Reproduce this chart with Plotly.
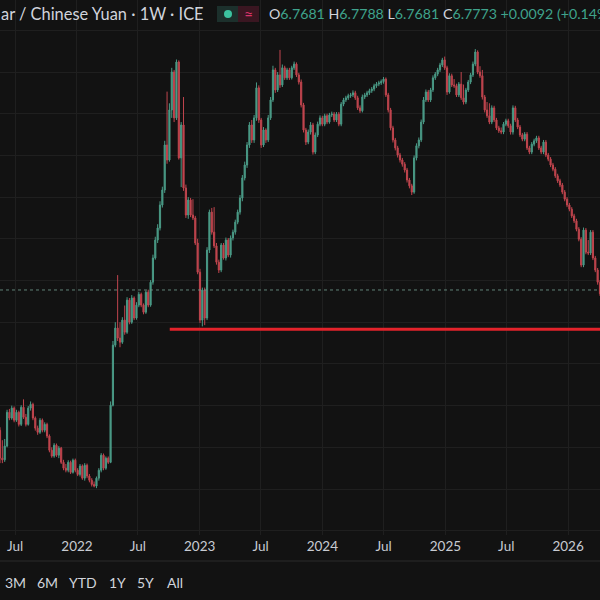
import plotly.graph_objects as go
import pandas as pd

# ---------------- data (weekly USD/CNY candles) ----------------
first_open = 6.430
close = [
    6.441, 6.374, 6.370, 6.403, 6.484, 6.470, 6.494, 6.465, 6.484, 6.455,
    6.496, 6.472, 6.455, 6.494, 6.503, 6.470, 6.446, 6.436, 6.465, 6.441,
    6.455, 6.427, 6.393, 6.379, 6.405, 6.381, 6.398, 6.364, 6.350, 6.345,
    6.364, 6.340, 6.369, 6.345, 6.335, 6.355, 6.326, 6.357, 6.331, 6.321,
    6.311, 6.307, 6.326, 6.345, 6.381, 6.350, 6.374, 6.364, 6.501, 6.645,
    6.686, 6.662, 6.652, 6.705, 6.676, 6.753, 6.700, 6.758, 6.710, 6.741,
    6.767, 6.741, 6.724, 6.772, 6.741, 6.796, 6.854, 6.897, 6.926, 6.981,
    7.017, 7.125, 7.089, 7.209, 7.300, 7.190, 7.324, 7.094, 7.173, 7.022,
    6.957, 6.993, 6.957, 6.950, 6.890, 6.820, 6.705, 6.777, 6.710, 6.873,
    6.964, 6.916, 6.883, 6.844, 6.825, 6.885, 6.854, 6.897, 6.861, 6.902,
    6.916, 6.940, 6.964, 6.998, 7.046, 7.077, 7.125, 7.173, 7.137, 7.190,
    7.262, 7.185, 7.125, 7.161, 7.137, 7.190, 7.233, 7.305, 7.257, 7.293,
    7.269, 7.310, 7.286, 7.305, 7.286, 7.310, 7.319, 7.293, 7.276, 7.221,
    7.161, 7.132, 7.156, 7.173, 7.108, 7.149, 7.175, 7.190, 7.175, 7.195,
    7.180, 7.197, 7.199, 7.185, 7.199, 7.175, 7.223, 7.233, 7.238, 7.243,
    7.245, 7.250, 7.238, 7.214, 7.207, 7.240, 7.245, 7.250, 7.255, 7.259,
    7.267, 7.271, 7.274, 7.277, 7.283, 7.245, 7.209, 7.166, 7.137, 7.118,
    7.101, 7.089, 7.079, 7.065, 7.041, 7.027, 7.012, 7.094, 7.123, 7.137,
    7.180, 7.233, 7.252, 7.233, 7.257, 7.286, 7.295, 7.305, 7.317, 7.329,
    7.310, 7.252, 7.291, 7.269, 7.267, 7.245, 7.271, 7.238, 7.228, 7.257,
    7.276, 7.293, 7.319, 7.348, 7.300, 7.291, 7.240, 7.209, 7.195, 7.180,
    7.214, 7.185, 7.166, 7.159, 7.156, 7.175, 7.183, 7.171, 7.156, 7.214,
    7.185, 7.168, 7.149, 7.139, 7.151, 7.118, 7.108, 7.127, 7.135, 7.142,
    7.118, 7.108, 7.132, 7.101, 7.091, 7.077, 7.067, 7.051, 7.039, 7.029,
    7.012, 6.995, 6.981, 6.971, 6.955, 6.943, 6.923, 6.899, 6.837, 6.921,
    6.868, 6.866, 6.916, 6.854, 6.825, 6.796, 6.7681, 6.7773,
]
high = [
    6.448, 6.448, 6.417, 6.420, 6.490, 6.492, 6.500, 6.498, 6.490, 6.488,
    6.501, 6.515, 6.480, 6.499, 6.510, 6.507, 6.474, 6.452, 6.470, 6.469,
    6.460, 6.459, 6.431, 6.400, 6.410, 6.409, 6.403, 6.401, 6.370, 6.360,
    6.369, 6.368, 6.373, 6.373, 6.350, 6.360, 6.359, 6.362, 6.361, 6.336,
    6.326, 6.318, 6.330, 6.350, 6.386, 6.385, 6.378, 6.378, 6.510, 6.655,
    6.700, 6.813, 6.700, 6.712, 6.740, 6.760, 6.758, 6.765, 6.762, 6.748,
    6.773, 6.771, 6.745, 6.776, 6.778, 6.801, 6.862, 6.905, 6.935, 6.990,
    7.025, 7.135, 7.253, 7.225, 7.310, 7.305, 7.330, 7.328, 7.180, 7.240,
    7.030, 7.000, 6.998, 6.995, 6.955, 6.900, 6.828, 6.783, 6.783, 6.880,
    6.970, 6.974, 6.976, 6.890, 6.850, 6.890, 6.890, 6.903, 6.902, 6.908,
    6.922, 6.946, 6.970, 7.005, 7.053, 7.085, 7.132, 7.180, 7.185, 7.197,
    7.275, 7.268, 7.190, 7.168, 7.165, 7.197, 7.240, 7.315, 7.310, 7.300,
    7.353, 7.318, 7.315, 7.310, 7.310, 7.315, 7.325, 7.323, 7.298, 7.282,
    7.226, 7.166, 7.162, 7.180, 7.178, 7.155, 7.181, 7.196, 7.195, 7.200,
    7.200, 7.202, 7.205, 7.204, 7.204, 7.204, 7.228, 7.238, 7.243, 7.248,
    7.250, 7.256, 7.255, 7.243, 7.220, 7.246, 7.250, 7.255, 7.260, 7.264,
    7.272, 7.276, 7.279, 7.282, 7.288, 7.287, 7.250, 7.214, 7.171, 7.142,
    7.123, 7.106, 7.094, 7.084, 7.070, 7.046, 7.032, 7.100, 7.129, 7.143,
    7.186, 7.240, 7.258, 7.257, 7.262, 7.292, 7.300, 7.310, 7.322, 7.334,
    7.337, 7.315, 7.297, 7.296, 7.283, 7.272, 7.276, 7.300, 7.270, 7.262,
    7.281, 7.298, 7.325, 7.355, 7.352, 7.314, 7.305, 7.245, 7.228, 7.225,
    7.220, 7.219, 7.190, 7.171, 7.167, 7.180, 7.188, 7.188, 7.176, 7.220,
    7.219, 7.190, 7.173, 7.154, 7.156, 7.156, 7.123, 7.132, 7.140, 7.147,
    7.147, 7.123, 7.137, 7.137, 7.106, 7.096, 7.082, 7.072, 7.056, 7.044,
    7.034, 7.017, 7.000, 6.986, 6.976, 6.960, 6.948, 6.928, 6.904, 6.927,
    6.926, 6.897, 6.921, 6.921, 6.859, 6.830, 6.801, 6.7788,
]
low = [
    6.428, 6.362, 6.362, 6.365, 6.400, 6.465, 6.466, 6.460, 6.461, 6.450,
    6.451, 6.468, 6.450, 6.452, 6.488, 6.465, 6.440, 6.430, 6.432, 6.436,
    6.436, 6.422, 6.388, 6.375, 6.375, 6.377, 6.374, 6.360, 6.345, 6.340,
    6.340, 6.336, 6.337, 6.340, 6.331, 6.330, 6.322, 6.320, 6.326, 6.316,
    6.306, 6.304, 6.302, 6.320, 6.340, 6.345, 6.346, 6.360, 6.362, 6.498,
    6.640, 6.655, 6.640, 6.648, 6.670, 6.672, 6.695, 6.696, 6.705, 6.706,
    6.736, 6.736, 6.719, 6.720, 6.736, 6.737, 6.790, 6.850, 6.890, 6.920,
    6.975, 7.010, 7.080, 7.085, 7.190, 7.180, 7.185, 7.090, 7.024, 7.015,
    6.950, 6.948, 6.952, 6.945, 6.885, 6.815, 6.698, 6.690, 6.693, 6.705,
    6.866, 6.910, 6.878, 6.838, 6.818, 6.820, 6.850, 6.848, 6.856, 6.855,
    6.896, 6.910, 6.935, 6.958, 6.990, 7.040, 7.070, 7.118, 7.130, 7.130,
    7.183, 7.178, 7.118, 7.120, 7.130, 7.132, 7.185, 7.228, 7.250, 7.252,
    7.262, 7.264, 7.281, 7.281, 7.281, 7.282, 7.305, 7.288, 7.270, 7.215,
    7.155, 7.125, 7.127, 7.150, 7.102, 7.103, 7.144, 7.170, 7.170, 7.170,
    7.175, 7.176, 7.192, 7.180, 7.180, 7.170, 7.170, 7.218, 7.228, 7.233,
    7.238, 7.240, 7.233, 7.209, 7.202, 7.203, 7.235, 7.240, 7.245, 7.250,
    7.254, 7.262, 7.266, 7.269, 7.272, 7.240, 7.203, 7.160, 7.131, 7.112,
    7.095, 7.083, 7.073, 7.059, 7.035, 7.021, 7.005, 7.008, 7.088, 7.117,
    7.132, 7.175, 7.228, 7.228, 7.228, 7.252, 7.281, 7.290, 7.300, 7.312,
    7.305, 7.245, 7.248, 7.264, 7.262, 7.240, 7.240, 7.233, 7.222, 7.223,
    7.252, 7.271, 7.288, 7.314, 7.295, 7.286, 7.234, 7.203, 7.190, 7.175,
    7.175, 7.180, 7.161, 7.154, 7.151, 7.151, 7.170, 7.166, 7.150, 7.150,
    7.180, 7.163, 7.144, 7.134, 7.134, 7.113, 7.103, 7.103, 7.122, 7.130,
    7.113, 7.103, 7.103, 7.096, 7.086, 7.072, 7.062, 7.046, 7.034, 7.024,
    7.007, 6.990, 6.976, 6.966, 6.950, 6.938, 6.918, 6.894, 6.832, 6.832,
    6.863, 6.861, 6.861, 6.849, 6.820, 6.790, 6.763, 6.7681,
]

week_start = "2021-05-10"
support_level = 6.683          # horizontal red level (Jan-2023 low)
support_from = "2022-10-04"
view_start, view_end = "2021-05-17", "2026-04-06"
price_range = [6.1897, 7.4727]

tick_dates = ["2021-07-01", "2022-01-01", "2022-07-01", "2023-01-01", "2023-07-01",
              "2024-01-01", "2024-07-01", "2025-01-01", "2025-07-01", "2026-01-01"]
tick_text = ["Jul", "2022", "Jul", "2023", "Jul", "2024", "Jul", "2025", "Jul", "2026"]
range_buttons = ["3M", "6M", "YTD", "1Y", "5Y", "All"]
title_text = "ar / Chinese Yuan · 1W · ICE"

# ---------------- build ----------------
dates = pd.date_range(week_start, periods=len(close), freq="7D")
opens = [first_open] + close[:-1]

BG = "#121212"
GRID = "#1f1f1f"
UP = "#4a9a86"
DOWN = "#c0454e"
TXT = "#d1d4dc"
FONT = "Lato"

W, H = 600, 600
PLOT_B = 65                     # bottom margin in px
PH = H - PLOT_B                 # plot height in px


def px_x(p):
    return p / W


def px_y(p):
    return (PH - p) / PH


fig = go.Figure()
fig.add_trace(go.Candlestick(
    x=dates, open=opens, high=high, low=low, close=close,
    increasing=dict(line=dict(color=UP, width=1), fillcolor=UP),
    decreasing=dict(line=dict(color=DOWN, width=1), fillcolor=DOWN),
    whiskerwidth=0, showlegend=False, hoverinfo="skip",
))

# red support level
fig.add_shape(type="line", xref="x", yref="y",
              x0=support_from, x1=view_end, y0=support_level, y1=support_level,
              line=dict(color="#e3232b", width=3))
# dotted last-price line
fig.add_shape(type="line", xref="paper", yref="y",
              x0=0, x1=1, y0=close[-1], y1=close[-1],
              line=dict(color="rgba(110,150,138,0.85)", width=1, dash="dot"))

# time-axis separator line
fig.add_shape(type="line", xref="paper", yref="paper",
              x0=0, x1=1, y0=px_y(561), y1=px_y(561),
              line=dict(color="#2a2a2a", width=1))

# header: title
fig.add_annotation(xref="paper", yref="paper", x=px_x(-1), y=px_y(14),
                   xanchor="left", yanchor="middle", showarrow=False,
                   text=title_text, font=dict(family=FONT, size=16.4, color=TXT))
# header: status pill
fig.add_shape(type="rect", xref="paper", yref="paper",
              x0=px_x(217), x1=px_x(238), y0=px_y(22), y1=px_y(6),
              fillcolor="#1c302c", line=dict(width=0), layer="above")
fig.add_shape(type="rect", xref="paper", yref="paper",
              x0=px_x(238), x1=px_x(259), y0=px_y(22), y1=px_y(6),
              fillcolor="#3a1621", line=dict(width=0), layer="above")
fig.add_shape(type="circle", xref="paper", yref="paper",
              x0=px_x(224), x1=px_x(232), y0=px_y(18), y1=px_y(10),
              fillcolor="#3cc3a0", line=dict(width=0), layer="above")
fig.add_annotation(xref="paper", yref="paper", x=px_x(248), y=px_y(14),
                   xanchor="center", yanchor="middle", showarrow=False,
                   text="≈", font=dict(family=FONT, size=16, color="#d8346a"))

# header: OHLC readout built from the last candle
o_, h_, l_, c_ = opens[-1], high[-1], low[-1], close[-1]
chg = c_ - close[-2]
pct = chg / close[-2] * 100
VAL = "#3fa38c"
ohlc = (f"<span style='color:{TXT}'>O</span><span style='color:{VAL}'>{o_:.4f}</span> "
        f"<span style='color:{TXT}'>H</span><span style='color:{VAL}'>{h_:.4f}</span> "
        f"<span style='color:{TXT}'>L</span><span style='color:{VAL}'>{l_:.4f}</span> "
        f"<span style='color:{TXT}'>C</span><span style='color:{VAL}'>{c_:.4f}</span> "
        f"<span style='color:{VAL}'>{chg:+.4f} ({pct:+.2f}%)</span>")
fig.add_annotation(xref="paper", yref="paper", x=px_x(267), y=px_y(14),
                   xanchor="left", yanchor="middle", showarrow=False,
                   text=ohlc, font=dict(family=FONT, size=14.2, color=TXT))

# range buttons (as text)
btn_x = [3, 35, 67, 107, 135, 165]
for label, bx in zip(range_buttons, btn_x):
    fig.add_annotation(xref="paper", yref="paper", x=px_x(bx), y=px_y(582),
                       xanchor="left", yanchor="middle", showarrow=False,
                       text=label, font=dict(family=FONT, size=14, color=TXT))

fig.update_layout(
    width=W, height=H,
    margin=dict(l=0, r=0, t=0, b=PLOT_B),
    paper_bgcolor=BG, plot_bgcolor=BG,
    xaxis=dict(
        type="date", range=[view_start, view_end],
        rangeslider=dict(visible=False),
        tickvals=tick_dates, ticktext=tick_text,
        showgrid=True, gridcolor=GRID, gridwidth=1,
        zeroline=False, showline=False, ticks="",
        tickfont=dict(family=FONT, size=13.5, color="#c8cbd2"),
        ticklabelstandoff=1,
        fixedrange=True,
    ),
    yaxis=dict(
        range=price_range, tick0=6.3, dtick=0.1,
        showgrid=True, gridcolor=GRID, gridwidth=1,
        zeroline=False, showline=False, showticklabels=False, ticks="",
        fixedrange=True,
    ),
)

fig.write_html("out.html")
